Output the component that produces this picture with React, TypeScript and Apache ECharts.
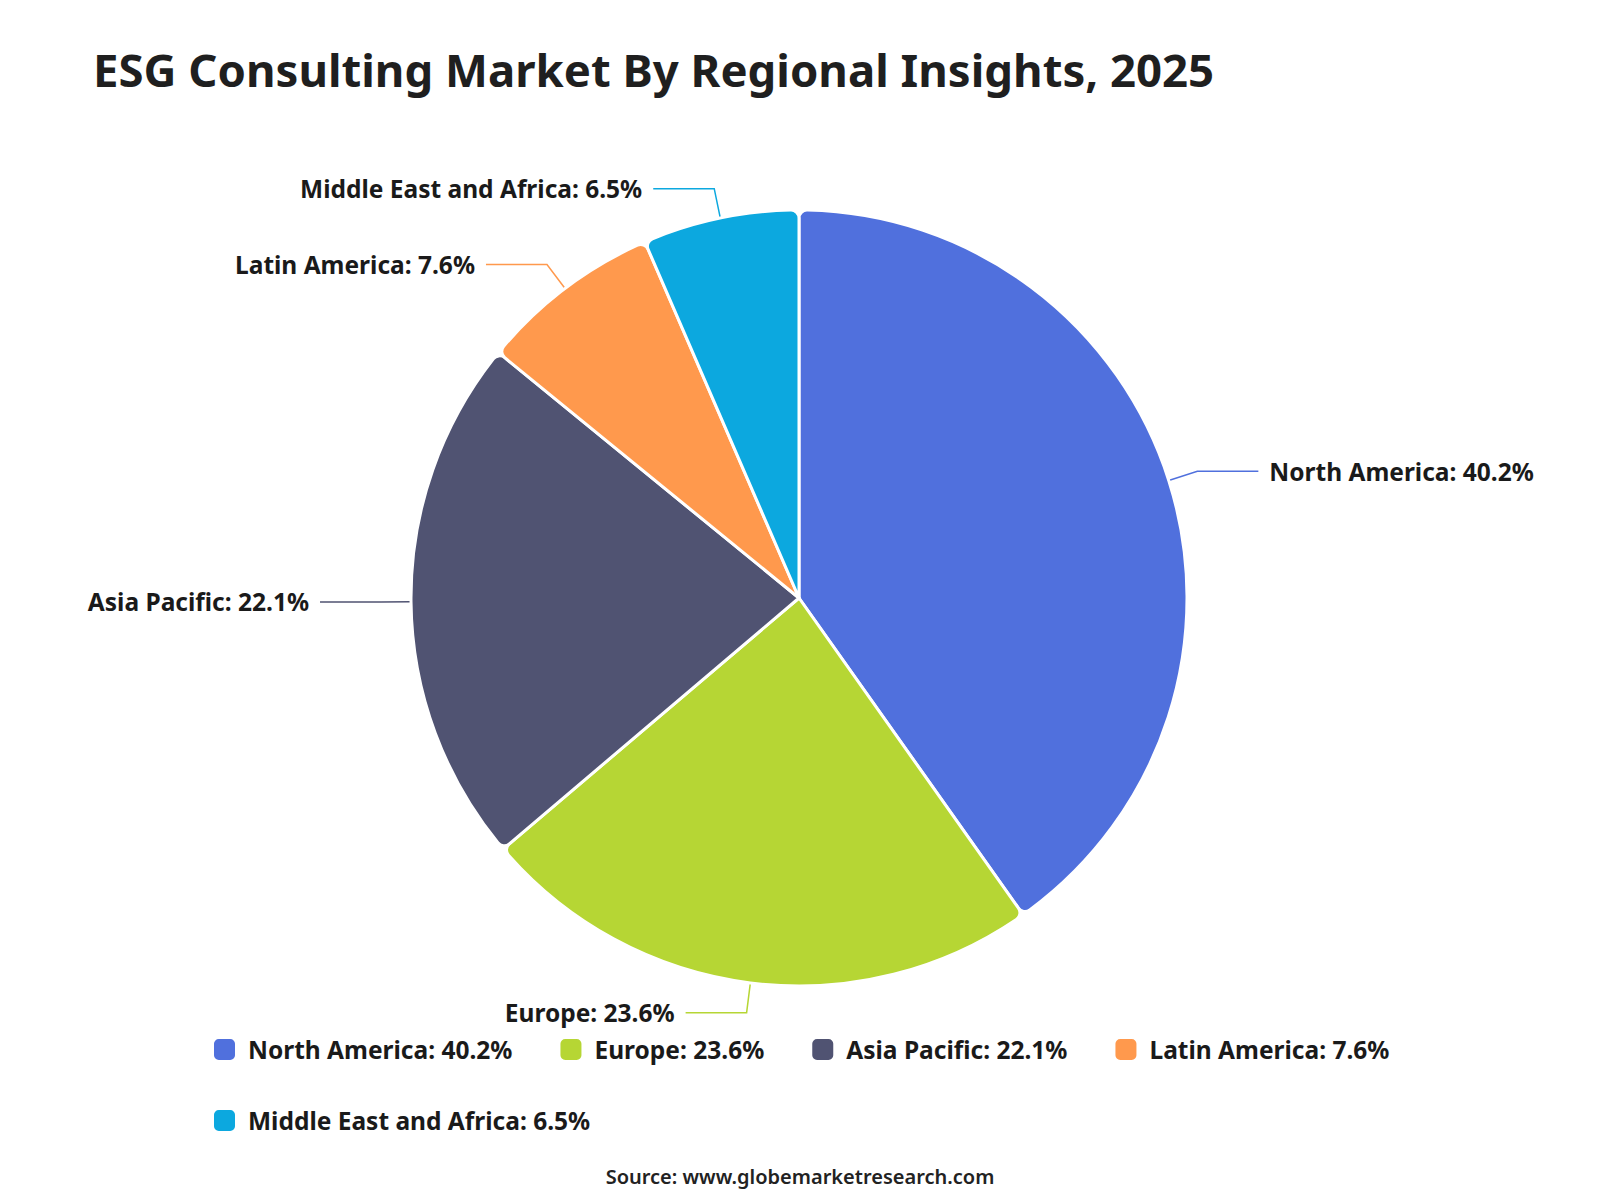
import React, { useEffect, useRef } from "react";
import * as echarts from "echarts";

const regions = ["North America", "Europe", "Asia Pacific", "Latin America", "Middle East and Africa"];
const shares = [40.2, 23.6, 22.1, 7.6, 6.5];
const colors = ["#5070dd", "#b6d634", "#505372", "#ff994d", "#0ca8df"];
const titleText = "ESG Consulting Market By Regional Insights, 2025";
const sourceText = "Source: www.globemarketresearch.com";

const FONT = "'Noto Sans', 'Open Sans', sans-serif";

export default function App() {
  const ref = useRef<HTMLDivElement>(null);
  useEffect(() => {
    if (!ref.current) return;
    const chart = echarts.init(ref.current, undefined, { renderer: "svg" });
    const data = regions.map((name, i) => ({
      name,
      value: shares[i],
      itemStyle: { color: colors[i] },
      labelLine: { lineStyle: { color: colors[i], width: 1.5 } },
    }));
    chart.setOption({
      animation: false,
      backgroundColor: "#ffffff",
      title: {
        text: titleText,
        left: 80,
        top: 33,
        textStyle: { fontFamily: FONT, fontSize: 45.5, fontWeight: "bold", color: "#1f1f1f" },
      },
      legend: {
        left: 199,
        top: 1024,
        width: 1240,
        itemWidth: 23,
        itemHeight: 23,
        itemGap: 46,
        icon: "roundRect",
        data: regions,
        formatter: (name: string) => `${name}: ${shares[regions.indexOf(name)]}%`,
        textStyle: {
          fontFamily: FONT,
          fontSize: 24.5,
          fontWeight: "bold",
          color: "#1a1a1a",
          padding: [0, 0, 0, 7],
        },
      },
      graphic: [
        {
          type: "text",
          x: 792,
          y: 1158,
          style: {
            text: sourceText,
            fontFamily: FONT,
            fontSize: 20,
            fontWeight: 600,
            fill: "#222222",
            align: "center",
            verticalAlign: "top",
          },
        },
      ],
      series: [
        {
          type: "pie",
          center: [791, 590],
          radius: [0, 388],
          startAngle: 90,
          clockwise: true,
          itemStyle: { borderColor: "#ffffff", borderWidth: 3, borderRadius: 8 },
          label: {
            show: true,
            formatter: (p: any) => `${p.name}: ${p.value}%`,
            fontFamily: FONT,
            fontSize: 24.5,
            fontWeight: "bold",
            color: "#1a1a1a",
            distanceToLabelLine: 11,
          },
          labelLine: { show: true, length: 30, length2: 61 },
          data,
        },
      ],
    });
    return () => chart.dispose();
  }, []);
  return <div ref={ref} style={{ width: 1600, height: 1200 }} />;
}
